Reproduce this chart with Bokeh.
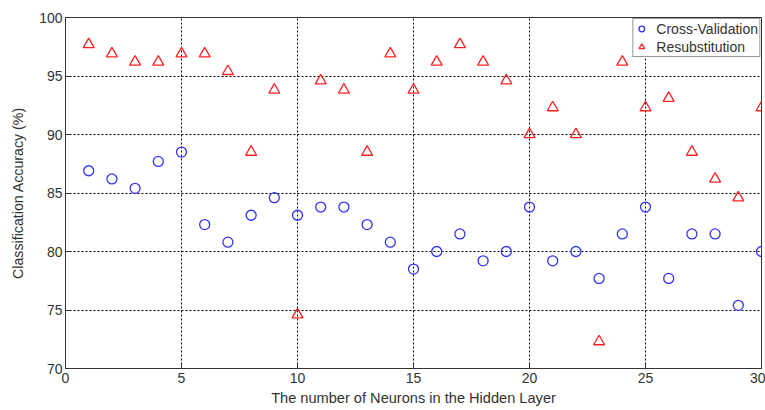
from bokeh.plotting import figure
from bokeh.models import Range1d, FixedTicker, Legend, LegendItem
from bokeh.embed import file_html
from bokeh.resources import INLINE

neurons = list(range(1, 31))
cross_validation = [86.9, 86.2, 85.4, 87.7, 88.5, 82.3, 80.8, 83.1, 84.6, 83.1,
                    83.8, 83.8, 82.3, 80.8, 78.5, 80.0, 81.5, 79.2, 80.0, 83.8,
                    79.2, 80.0, 77.7, 81.5, 83.8, 77.7, 81.5, 81.5, 75.4, 80.0]
resubstitution = [97.7, 96.9, 96.2, 96.2, 96.9, 96.9, 95.4, 88.5, 93.8, 74.6,
                  94.6, 93.8, 88.5, 96.9, 93.8, 96.2, 97.7, 96.2, 94.6, 90.0,
                  92.3, 90.0, 72.3, 96.2, 92.3, 93.1, 88.5, 86.2, 84.6, 92.3]
x_ticks = [0, 5, 10, 15, 20, 25, 30]
y_ticks = [70, 75, 80, 85, 90, 95, 100]

FONT = "Liberation Sans"

p = figure(width=765, height=410, frame_width=696, frame_height=351,
           output_backend="svg", toolbar_location=None,
           x_range=Range1d(0, 30), y_range=Range1d(70, 100),
           min_border_left=65, min_border_right=4, min_border_top=17, min_border_bottom=42)

p.outline_line_color = "#333333"
p.outline_line_width = 1
p.background_fill_color = "white"

for ax in (p.xaxis[0], p.yaxis[0]):
    ax.major_tick_in = 5
    ax.major_tick_out = 0
    ax.minor_tick_in = 0
    ax.minor_tick_out = 0
    ax.axis_line_color = "#333333"
    ax.major_tick_line_color = "#333333"
    ax.major_label_text_font = FONT
    ax.major_label_text_font_size = "14px"
    ax.major_label_text_color = "#333333"
    ax.axis_label_text_font = FONT
    ax.axis_label_text_font_style = "normal"
    ax.axis_label_text_color = "#333333"

p.xaxis[0].ticker = FixedTicker(ticks=x_ticks)
p.yaxis[0].ticker = FixedTicker(ticks=y_ticks)
p.xaxis[0].axis_label = "The number of Neurons in the Hidden Layer"
p.yaxis[0].axis_label = "Classification Accuracy (%)"
p.xaxis[0].axis_label_text_font_size = "14.6px"
p.yaxis[0].axis_label_text_font_size = "14.2px"
p.xaxis[0].major_label_standoff = 4
p.xaxis[0].axis_label_standoff = 4
p.yaxis[0].major_label_standoff = 3
p.yaxis[0].axis_label_standoff = 10

p.xgrid.ticker = FixedTicker(ticks=x_ticks)
p.ygrid.ticker = FixedTicker(ticks=y_ticks)
for g in (p.xgrid[0], p.ygrid[0]):
    g.grid_line_color = "black"
    g.grid_line_dash = "2 2"
    g.grid_line_width = 1
    g.grid_line_alpha = 1

r_cv = p.scatter(neurons, cross_validation, marker="circle", size=10,
                 fill_color=None, line_color="#3333ff", line_width=1.3)
r_rs = p.scatter(neurons, resubstitution, marker="triangle", size=11,
                 fill_color=None, line_color="#ff2222", line_width=1.3)

legend = Legend(items=[LegendItem(label="Cross-Validation", renderers=[r_cv]),
                       LegendItem(label="Resubstitution", renderers=[r_rs])],
                location="top_right")
legend.label_text_font = FONT
legend.label_text_font_size = "14px"
legend.label_text_color = "#333333"
legend.border_line_color = "#333333"
legend.border_line_width = 1
legend.margin = 1
legend.padding = 1
legend.spacing = 1
legend.glyph_width = 14
legend.glyph_height = 17
legend.label_height = 17
legend.label_standoff = 8
legend.background_fill_alpha = 1
p.add_layout(legend)

open("out.html", "w").write(file_html(p, INLINE))
